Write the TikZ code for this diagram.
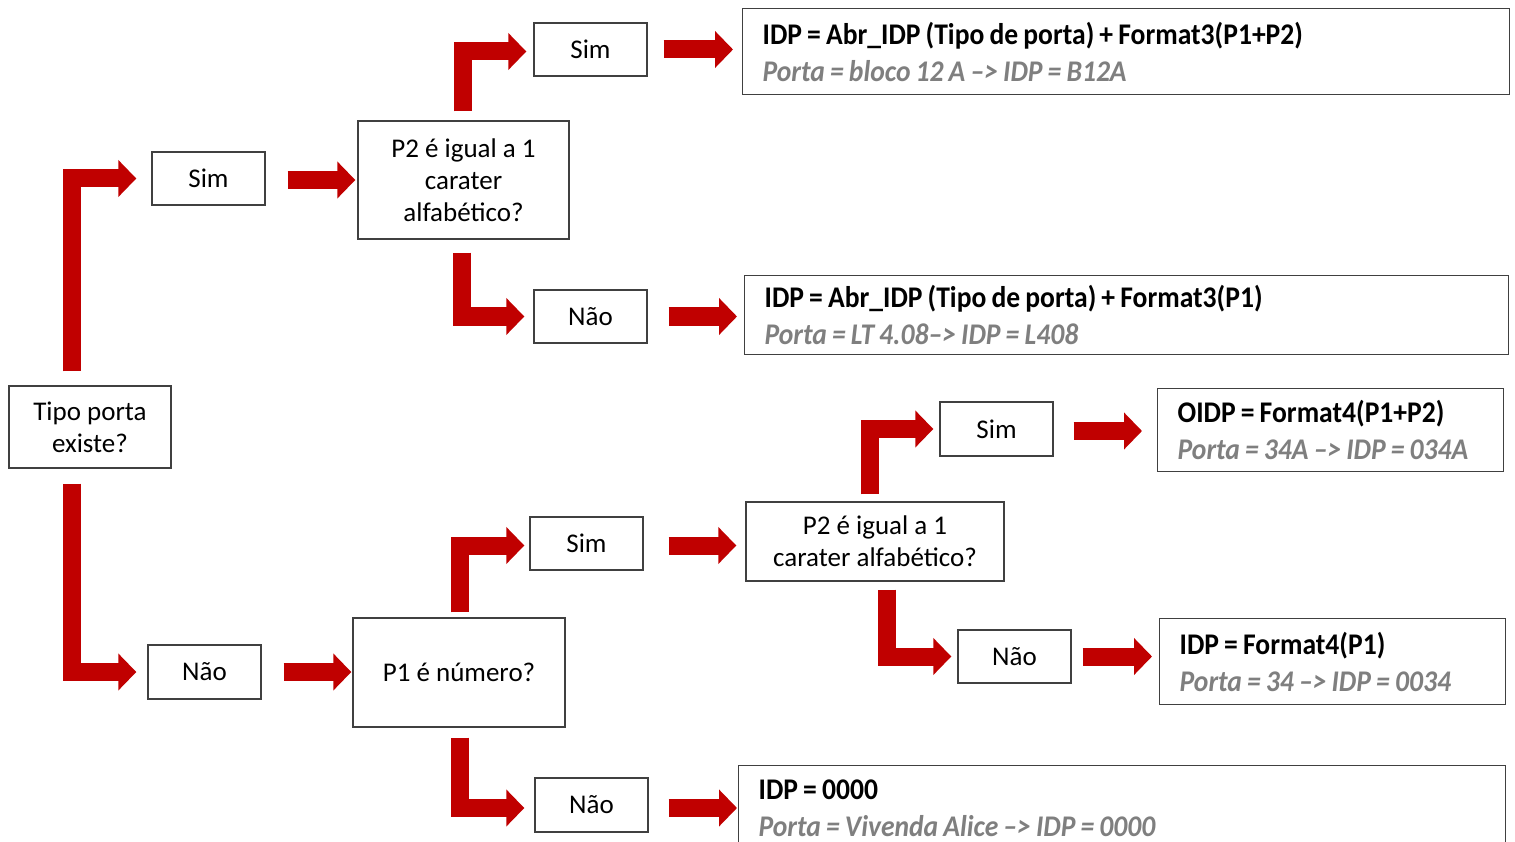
\documentclass[tikz,border=0pt]{standalone}
\usepackage{fontspec}
\setmainfont{Carlito}
\newfontfamily\bcond[FakeStretch=0.92]{Carlito}
\usetikzlibrary{arrows.meta}
\definecolor{vred}{HTML}{C00000}
\definecolor{boxc}{HTML}{404040}
\definecolor{greyt}{HTML}{7F7F7F}
\newcommand{\rtop}[1]{{\bcond\bfseries\spaceskip=0.17em #1}}
\newcommand{\rbot}[1]{{\bcond\bfseries\itshape\spaceskip=0.17em\color{greyt}#1}}
\tikzset{
  box/.style={draw=boxc, line width=1.4pt, fill=white, align=center, inner sep=0pt,
    font=\fontsize{27}{32}\selectfont},
  res/.style={draw=boxc, line width=1.4pt, fill=white, align=left, anchor=north west,
    inner ysep=0pt, inner xsep=20pt, font=\fontsize{30}{37}\selectfont},
  flow/.style={draw=vred, line width=18pt, line join=miter,
    -{Triangle[length=18pt,width=36pt]}},
}
\begin{document}
\begin{tikzpicture}[x=1pt,y=-1pt]
\useasboundingbox (0,0) rectangle (1515,842);
\clip (0,0) rectangle (1515,842);
% decision and answer boxes
\node[box, minimum width=162pt, minimum height=82pt] (tipo) at (90,427) {Tipo porta\\existe?};
\node[box, minimum width=113pt, minimum height=53pt] (sim1) at (208.5,178.5) {Sim};
\node[box, minimum width=113pt, minimum height=54pt] (nao1) at (204.5,672) {Não};
\node[box, minimum width=211pt, minimum height=118pt] (p2a) at (463.5,180) {P2 é igual a 1\\carater\\alfabético?};
\node[box, minimum width=113pt, minimum height=53pt] (sim2) at (590.5,49.5) {Sim};
\node[box, minimum width=113pt, minimum height=53pt] (nao2) at (590.5,316.5) {Não};
\node[box, minimum width=212pt, minimum height=109pt] (p1n) at (459,672.5) {P1 é número?};
\node[box, minimum width=113pt, minimum height=53pt] (sim3) at (586.5,543.5) {Sim};
\node[box, minimum width=113pt, minimum height=54pt] (nao3) at (591.5,805) {Não};
\node[box, minimum width=258pt, minimum height=79pt] (p2b) at (875,541.5) {P2 é igual a 1\\carater alfabético?};
\node[box, minimum width=113pt, minimum height=54pt] (sim4) at (996.5,429) {Sim};
\node[box, minimum width=113pt, minimum height=53pt] (nao4) at (1014.5,656.5) {Não};
% result boxes
\node[res, text width=727pt, minimum height=86pt] (r1) at (742,8)
  {\rtop{IDP = Abr\_IDP (Tipo de porta) + Format3(P1+P2)}\\\rbot{Porta = bloco 12 A \textendash> IDP = B12A}};
\node[res, text width=724pt, minimum height=79pt] (r2) at (744,275)
  {\rtop{IDP = Abr\_IDP (Tipo de porta) + Format3(P1)}\\\rbot{Porta = LT 4.08\textendash> IDP = L408}};
\node[res, text width=306pt, minimum height=83pt] (r3) at (1157,388)
  {\rtop{OIDP = Format4(P1+P2)}\\\rbot{Porta = 34A \textendash> IDP = 034A}};
\node[res, text width=306pt, minimum height=86pt] (r4) at (1159,618)
  {\rtop{IDP = Format4(P1)}\\\rbot{Porta = 34 \textendash> IDP = 0034}};
\node[res, text width=727pt, minimum height=86pt] (r5) at (738,765)
  {\rtop{IDP = 0000}\\\rbot{Porta = Vivenda Alice \textendash> IDP = 0000}};
% connectors
\draw[flow, shorten <=14pt, shorten >=15pt] ([xshift=-18pt]tipo.north) |- (sim1.west);
\draw[flow, shorten <=15pt, shorten >=11pt] ([xshift=-18pt]tipo.south) |- (nao1.west);
\draw[flow, shorten <=22pt, shorten >=2pt] ([yshift=-1.5pt]sim1.east) -- ([yshift=-1.5pt]sim1.east -| p2a.west);
\draw[flow, shorten <=9pt, shorten >=7pt] ([xshift=-1pt]p2a.north) |- ([yshift=-2pt]sim2.west);
\draw[flow, shorten <=16pt, shorten >=9pt] (sim2.east) -- (sim2.east -| r1.west);
\draw[flow, shorten <=13pt, shorten >=9pt] ([xshift=-2pt]p2a.south) |- (nao2.west);
\draw[flow, shorten <=21pt, shorten >=7pt] (nao2.east) -- (nao2.east -| r2.west);
\draw[flow, shorten <=22pt, shorten >=1pt] (nao1.east) -- (nao1.east -| p1n.west);
\draw[flow, shorten <=5pt, shorten >=5pt] ([xshift=1pt]p1n.north) |- ([yshift=-2pt]sim3.west);
\draw[flow, shorten <=25pt, shorten >=9pt] ([yshift=-2pt]sim3.east) -- ([yshift=-2pt]sim3.east -| p2b.west);
\draw[flow, shorten <=10pt, shorten >=10pt] ([xshift=1pt]p1n.south) |- ([yshift=-3pt]nao3.west);
\draw[flow, shorten <=20pt, shorten >=1pt] ([yshift=-3pt]nao3.east) -- ([yshift=-3pt]nao3.east -| r5.west);
\draw[flow, shorten <=7pt, shorten >=6pt] ([xshift=-5pt]p2b.north) |- (sim4.west);
\draw[flow, shorten <=20pt, shorten >=15pt] ([yshift=-2pt]sim4.east) -- ([yshift=-2pt]sim4.east -| r3.west);
\draw[flow, shorten <=8pt, shorten >=6pt] ([xshift=12pt]p2b.south) |- (nao4.west);
\draw[flow, shorten <=11pt, shorten >=7pt] (nao4.east) -- (nao4.east -| r4.west);
\end{tikzpicture}
\end{document}
